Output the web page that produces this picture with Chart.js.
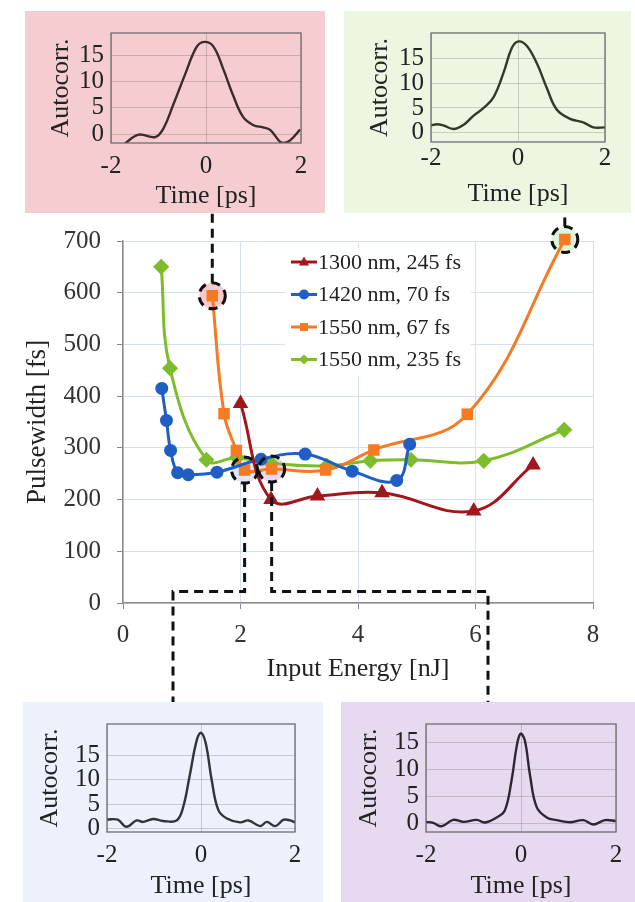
<!DOCTYPE html>
<html>
<head>
<meta charset="utf-8">
<script src="https://cdn.jsdelivr.net/npm/chart.js@4/dist/chart.umd.min.js"></script>
<style>
  html, body { margin: 0; padding: 0; background: #fff; }
  #page { position: relative; width: 635px; height: 902px; overflow: hidden; }
  #main { position: absolute; left: 0; top: 0; }
  .inset { position: absolute; }
  .inset canvas { display: block; }
</style>
</head>
<body>
<div id="page">
  <canvas id="main" width="635" height="902"></canvas>
  <div class="inset" id="box-tl" style="left:25px;top:11px;width:300px;height:202px;background:#f5cdd0"><canvas id="inset-tl"></canvas></div>
  <div class="inset" id="box-tr" style="left:344px;top:11px;width:287px;height:202px;background:#ecf6e0"><canvas id="inset-tr"></canvas></div>
  <div class="inset" id="box-bl" style="left:23px;top:702px;width:300px;height:200px;background:#edf1fb"><canvas id="inset-bl"></canvas></div>
  <div class="inset" id="box-br" style="left:341px;top:702px;width:294px;height:200px;background:#e7daf0"><canvas id="inset-br"></canvas></div>
</div>
<script>
// Pulsewidth vs input energy, four laser settings
const energy1300 = [2.0, 2.52, 3.31, 4.41, 5.97, 6.98];
const width1300 = [386, 200, 207, 213, 178, 267];

const energy1420 = [0.66, 0.74, 0.81, 0.93, 1.11, 1.60, 2.35, 3.10, 3.90, 4.66, 4.88];
const width1420 = [415, 353, 295, 252, 248, 253, 278, 288, 255, 237, 307];

const energy1550s = [1.52, 1.72, 1.93, 2.07, 2.53, 3.45, 4.27, 5.86, 7.52];
const width1550s = [594, 366, 295, 257, 259, 257, 296, 365, 703];

const energy1550l = [0.65, 0.80, 1.42, 1.94, 2.52, 3.47, 4.21, 4.90, 6.14, 7.51];
const width1550l = [650, 454, 277, 281, 270, 265, 275, 277, 275, 335];

const energyTicks = [0, 2, 4, 6, 8];
const widthTicks = [0, 100, 200, 300, 400, 500, 600, 700];

// Autocorrelation traces shown in the four insets
const timeTicks = [-2, 0, 2];
const autoTicks = [0, 5, 10, 15];

const tlTime = [-1.72, -1.42, -1.07, -0.90, -0.69, -0.44, -0.20, -0.04, 0.15, 0.36, 0.57, 0.78, 1.00, 1.20, 1.35, 1.56, 1.64, 1.77, 1.98];
const tlAuto = [-1.9, -0.1, -0.57, 1.0, 5.6, 11.4, 16.6, 17.6, 16.8, 12.5, 7.4, 3.3, 1.7, 1.3, 0.8, -1.5, -1.7, -1.2, 0.86];

const trTime = [-2.0, -1.86, -1.71, -1.48, -1.25, -1.02, -0.79, -0.56, -0.33, -0.14, 0.01, 0.20, 0.43, 0.66, 0.89, 1.20, 1.50, 1.73, 2.0];
const trAuto = [1.44, 1.7, 1.44, 0.75, 1.6, 3.45, 5.0, 7.2, 12.2, 17.2, 18.5, 17.6, 14.1, 9.1, 4.7, 2.8, 2.1, 1.07, 1.07];

const blTime = [-2.0, -1.77, -1.59, -1.37, -1.23, -1.02, -0.81, -0.52, -0.38, -0.24, -0.09, 0.0, 0.10, 0.23, 0.37, 0.55, 0.83, 1.01, 1.26, 1.40, 1.58, 1.76, 1.90, 2.0];
const blAuto = [1.9, 1.85, 0.4, 1.7, 1.4, 2.0, 1.6, 1.7, 4.4, 10.9, 18.1, 19.6, 17.5, 9.8, 3.8, 2.1, 1.3, 1.7, 0.54, 1.4, 0.54, 1.85, 1.7, 1.3];

const brTime = [-2.0, -1.85, -1.67, -1.43, -1.21, -0.93, -0.76, -0.51, -0.34, -0.20, -0.09, -0.01, 0.08, 0.19, 0.33, 0.54, 0.75, 1.03, 1.31, 1.52, 1.77, 2.0];
const brAuto = [0.28, 0.1, -0.54, 0.65, 0.28, 0.65, 0.16, 1.1, 2.4, 7.9, 14.3, 16.6, 15.4, 8.9, 3.0, 1.1, 0.6, 0.2, 0.6, -0.2, 0.6, 0.43];

const serif = "'Liberation Serif', 'Times New Roman', serif";
Chart.defaults.font.family = serif;
Chart.defaults.color = '#2b2b2b';

function toPoints(xs, ys) {
  return xs.map((x, i) => ({ x: x, y: ys[i] }));
}

function series(label, xs, ys, color, style, radius) {
  return {
    label: label,
    data: toPoints(xs, ys),
    borderColor: color,
    backgroundColor: color,
    pointBackgroundColor: color,
    pointBorderColor: color,
    pointStyle: style,
    pointRadius: radius,
    borderWidth: 3,
    tension: 0.4,
    fill: false,
    clip: false
  };
}

function drawMarker(ctx, style, x, y, r, color) {
  ctx.save();
  ctx.fillStyle = color;
  ctx.beginPath();
  if (style === 'triangle') {
    ctx.moveTo(x, y - r * 1.1);
    ctx.lineTo(x + r, y + r * 0.7);
    ctx.lineTo(x - r, y + r * 0.7);
  } else if (style === 'rect') {
    ctx.rect(x - r * 0.8, y - r * 0.8, r * 1.6, r * 1.6);
  } else if (style === 'rectRot') {
    ctx.moveTo(x, y - r); ctx.lineTo(x + r, y); ctx.lineTo(x, y + r); ctx.lineTo(x - r, y);
  } else {
    ctx.arc(x, y, r, 0, Math.PI * 2);
  }
  ctx.closePath();
  ctx.fill();
  ctx.restore();
}

// circled points and the dashed leaders to their insets
const marked = [
  { x: energy1550s[0], y: width1550s[0], fill: 'rgba(246,196,200,0.9)', box: 'box-tl', route: 'up' },
  { x: energy1550s[8], y: width1550s[8], fill: 'rgba(224,241,214,0.9)', box: 'box-tr', route: 'up' },
  { x: energy1550s[3], y: width1550s[3], fill: 'rgba(214,224,246,0.8)', box: 'box-bl', route: 'down' },
  { x: energy1550s[4], y: width1550s[4], fill: 'rgba(226,206,238,0.8)', box: 'box-br', route: 'down' }
];
const leaderLevel = 22;

function boxRect(chart, id) {
  const r = document.getElementById(id).getBoundingClientRect();
  const c = chart.canvas.getBoundingClientRect();
  return { left: r.left - c.left, top: r.top - c.top, right: r.right - c.left, bottom: r.bottom - c.top };
}

const mainDecor = {
  id: 'mainDecor',
  beforeDatasetsDraw(chart) {
    const ctx = chart.ctx;
    const xs = chart.scales.x, ys = chart.scales.y;
    ctx.save();
    // legend backdrop
    ctx.fillStyle = '#fff';
    ctx.fillRect(285, 248, 186, 128);
    marked.forEach(m => {
      ctx.beginPath();
      ctx.arc(xs.getPixelForValue(m.x), ys.getPixelForValue(m.y), 13, 0, Math.PI * 2);
      ctx.fillStyle = m.fill;
      ctx.fill();
    });
    ctx.restore();
  },
  afterDatasetsDraw(chart) {
    const ctx = chart.ctx;
    const xs = chart.scales.x, ys = chart.scales.y;
    ctx.save();
    ctx.strokeStyle = '#111';
    ctx.lineWidth = 3;
    ctx.setLineDash([9, 6]);
    marked.forEach(m => {
      const px = xs.getPixelForValue(m.x), py = ys.getPixelForValue(m.y);
      ctx.beginPath();
      ctx.arc(px, py, 13, 0, Math.PI * 2);
      ctx.stroke();
      const b = boxRect(chart, m.box);
      ctx.beginPath();
      if (m.route === 'up') {
        ctx.moveTo(px, py - 13);
        ctx.lineTo(px, b.bottom);
      } else {
        const ly = ys.getPixelForValue(leaderLevel);
        const cx = (b.left + b.right) / 2;
        ctx.moveTo(px, py + 13);
        ctx.lineTo(px, ly);
        ctx.lineTo(cx, ly);
        ctx.lineTo(cx, b.top);
      }
      ctx.stroke();
    });
    ctx.restore();

    // legend
    ctx.save();
    ctx.font = '22px ' + serif;
    ctx.textBaseline = 'middle';
    chart.data.datasets.forEach((ds, i) => {
      const y = 262 + i * 32.5;
      ctx.strokeStyle = ds.borderColor;
      ctx.lineWidth = 3;
      ctx.beginPath();
      ctx.moveTo(291, y);
      ctx.lineTo(317, y);
      ctx.stroke();
      drawMarker(ctx, ds.pointStyle, 304, y, 5, ds.borderColor);
      ctx.fillStyle = '#222';
      ctx.fillText(ds.label, 318, y + 1);
    });
    ctx.restore();
  }
};

new Chart(document.getElementById('main'), {
  type: 'line',
  data: {
    datasets: [
      series('1300 nm, 245 fs', energy1300, width1300, '#a3161c', 'triangle', 6),
      series('1420 nm, 70 fs', energy1420, width1420, '#1f5fc4', 'circle', 5),
      series('1550 nm, 67 fs', energy1550s, width1550s, '#f57a22', 'rect', 6),
      series('1550 nm, 235 fs', energy1550l, width1550l, '#7dbd2b', 'rectRot', 6)
    ]
  },
  options: {
    responsive: false,
    animation: false,
    layout: { padding: { left: 10, top: 241, right: 42, bottom: 213 } },
    plugins: { legend: { display: false }, tooltip: { enabled: false } },
    scales: {
      x: {
        type: 'linear',
        min: 0,
        max: 8,
        afterBuildTicks: s => { s.ticks = energyTicks.map(v => ({ value: v })); },
        ticks: { padding: 11, font: { size: 25 }, color: '#333', maxRotation: 0 },
        grid: { color: '#d7e0f3', tickColor: '#8a8a8a', tickLength: 6 },
        border: { color: '#8a8a8a', width: 1.5 },
        title: { display: true, text: 'Input Energy [nJ]', font: { size: 26 }, color: '#222', padding: { top: 0, bottom: 4 } },
        afterFit: s => { s.height = 86; }
      },
      y: {
        min: 0,
        max: 700,
        afterBuildTicks: s => { s.ticks = widthTicks.map(v => ({ value: v })); },
        ticks: { padding: 16, font: { size: 25 }, color: '#333' },
        grid: { color: '#d7e0f3', tickColor: '#8a8a8a', tickLength: 6 },
        border: { color: '#8a8a8a', width: 1.5 },
        title: { display: true, text: 'Pulsewidth [fs]', font: { size: 27 }, color: '#222', padding: { top: 12, bottom: 0 } },
        afterFit: s => { s.width = 113; }
      }
    }
  },
  plugins: [mainDecor]
});

// box round the inset plot area
const insetFrame = {
  id: 'insetFrame',
  afterDraw(chart) {
    const a = chart.chartArea;
    const ctx = chart.ctx;
    ctx.save();
    ctx.strokeStyle = '#6e6e6e';
    ctx.lineWidth = 1.3;
    ctx.strokeRect(a.left, a.top, a.right - a.left, a.bottom - a.top);
    ctx.restore();
  }
};

function makeInset(canvasId, times, values, g) {
  const canvas = document.getElementById(canvasId);
  const box = canvas.parentElement;
  canvas.width = box.offsetWidth;
  canvas.height = box.offsetHeight;
  return new Chart(canvas, {
    type: 'scatter',
    data: {
      datasets: [{
        data: toPoints(times, values),
        showLine: true,
        borderColor: g.line,
        borderWidth: 2.4,
        pointRadius: 0,
        tension: 0.4,
        fill: false
      }]
    },
    options: {
      responsive: false,
      animation: false,
      layout: { padding: { left: g.padLeft, top: g.top, right: g.right, bottom: 0 } },
      plugins: { legend: { display: false }, tooltip: { enabled: false } },
      scales: {
        x: {
          type: 'linear',
          min: -2,
          max: 2,
          afterBuildTicks: s => { s.ticks = timeTicks.map(v => ({ value: v })); },
          ticks: { padding: g.xTickPad, font: { size: 25 }, color: '#222', maxRotation: 0 },
          grid: { color: 'rgba(0,0,0,0.16)', drawTicks: false },
          border: { display: false },
          title: { display: true, text: 'Time [ps]', font: { size: 26 }, color: '#222', padding: { top: 0, bottom: g.xTitlePad } },
          afterFit: s => { s.height = g.xHeight; }
        },
        y: {
          min: g.yMin,
          max: g.yMax,
          afterBuildTicks: s => { s.ticks = autoTicks.map(v => ({ value: v })); },
          ticks: { padding: 7, font: { size: 25 }, color: '#222' },
          grid: { color: 'rgba(0,0,0,0.16)', drawTicks: false },
          border: { display: false },
          title: { display: true, text: 'Autocorr.', font: { size: 26 }, color: '#222', padding: { top: g.yTitlePad, bottom: 0 } },
          afterFit: s => { s.width = g.yWidth; }
        }
      }
    },
    plugins: [insetFrame]
  });
}

makeInset('inset-tl', tlTime, tlAuto, {
  line: '#3d2a2b', padLeft: 10, yWidth: 76, top: 10, right: 24, xHeight: 70,
  xTickPad: 8, xTitlePad: 1, yTitlePad: 11, yMin: -1.7, yMax: 19.3
});
makeInset('inset-tr', trTime, trAuto, {
  line: '#2f3a2a', padLeft: 10, yWidth: 77, top: 13, right: 26, xHeight: 71,
  xTickPad: 1, xTitlePad: 3, yTitlePad: 11, yMin: -1.9, yMax: 20.2
});
makeInset('inset-bl', blTime, blAuto, {
  line: '#333338', padLeft: 8, yWidth: 76, top: 6, right: 28, xHeight: 70,
  xTickPad: 8, xTitlePad: 0, yTitlePad: 4, yMin: -0.66, yMax: 21.4
});
makeInset('inset-br', brTime, brAuto, {
  line: '#2e2633', padLeft: 8, yWidth: 77, top: 6, right: 19, xHeight: 70,
  xTickPad: 8, xTitlePad: 0, yTitlePad: 5, yMin: -1.6, yMax: 18.4
});
</script>
</body>
</html>
